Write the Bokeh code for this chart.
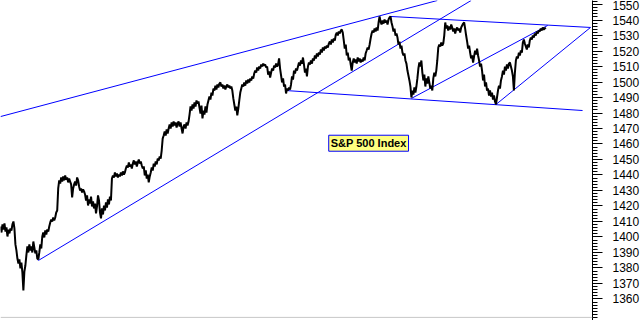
from bokeh.plotting import figure
from bokeh.models import Range1d, LinearAxis, FixedTicker, Label, Span
from bokeh.embed import file_html
from bokeh.resources import INLINE

# S&P 500 index, intraday closes (bar index = position in list)
seg_march = [1406.8, 1402.9, 1408.1, 1404.8, 1408.7, 1403.5, 1406.2, 1400.3, 1404.8, 1402.3,
             1405.5, 1404.2, 1408.1, 1410.0, 1405.5, 1395.2, 1391.3, 1386.1, 1382.9, 1385.5,
             1379.7, 1383.5, 1377.1, 1365.5, 1377.7, 1381.6, 1388.1, 1393.9, 1390.0, 1395.2,
             1391.3, 1393.9, 1390.0, 1397.1, 1393.2, 1389.4, 1391.3, 1386.1, 1385.5, 1390.0,
             1395.2, 1392.6, 1400.3, 1402.9, 1399.7, 1404.2, 1401.6, 1404.8, 1403.5, 1406.8,
             1409.4, 1411.3, 1410.0, 1412.6, 1410.7, 1412.6, 1415.8, 1417.1, 1431.3, 1436.5,
             1434.5, 1438.4, 1435.8, 1439.1, 1436.5, 1439.7, 1437.1, 1438.4, 1435.2, 1437.7,
             1435.8, 1433.9, 1425.5, 1431.3, 1433.9, 1435.8, 1433.2, 1438.4, 1436.5, 1432.6,
             1430.0, 1431.3, 1428.7, 1430.7, 1429.4, 1427.4, 1423.5, 1426.8, 1420.3, 1424.2,
             1421.6, 1426.1, 1419.7, 1422.9, 1418.4, 1421.6, 1415.2, 1419.7, 1426.8, 1423.5]
seg_april = [1415.8, 1412.0, 1418.4, 1414.5, 1420.3, 1417.1, 1422.3, 1419.0, 1424.2, 1421.0,
             1426.1, 1423.5, 1437.7, 1439.7, 1438.4, 1441.6, 1439.1, 1441.0, 1438.4, 1440.3,
             1439.1, 1441.6, 1439.7, 1442.3, 1440.3, 1441.6, 1444.2, 1446.1, 1444.8, 1448.1,
             1445.5, 1446.8, 1444.2, 1447.4, 1449.4, 1446.8, 1448.7, 1445.5, 1448.1, 1450.0,
             1447.4, 1448.7, 1446.1, 1444.2, 1445.5, 1439.7, 1442.9, 1437.7, 1440.3, 1435.2,
             1439.1, 1441.6, 1444.8, 1442.9, 1447.4, 1445.5, 1448.7, 1446.8, 1450.6, 1449.4,
             1451.9, 1450.6, 1455.8, 1463.5, 1465.5, 1468.1, 1465.5, 1469.4, 1466.8, 1470.0,
             1472.6, 1470.0, 1473.9, 1471.3, 1474.5, 1471.9, 1473.9, 1470.6, 1473.2, 1474.5,
             1471.3, 1473.9, 1470.0, 1466.8, 1471.3, 1472.6, 1470.0, 1473.9, 1471.9, 1474.5,
             1479.0, 1484.2, 1481.6, 1485.5, 1482.9, 1486.8, 1484.2, 1488.1, 1486.1, 1487.4]
seg_may = [1483.5, 1479.7, 1484.8, 1476.5, 1481.6, 1479.0, 1484.2, 1480.3, 1485.5, 1488.1,
           1490.6, 1488.7, 1493.2, 1491.3, 1495.8, 1494.5, 1497.7, 1495.2, 1498.4, 1496.5,
           1499.0, 1499.7, 1497.1, 1498.4, 1495.8, 1497.7, 1495.2, 1497.1, 1498.4, 1496.5,
           1497.7, 1495.8, 1497.1, 1494.5, 1489.4, 1485.5, 1481.6, 1484.2, 1478.4, 1482.9,
           1488.1, 1493.2, 1495.8, 1498.4, 1497.1, 1499.7, 1497.7, 1501.0, 1499.0, 1501.6,
           1499.7, 1502.3, 1501.0, 1503.6, 1502.3, 1505.5, 1507.4, 1506.1, 1509.4, 1507.4,
           1510.0, 1508.7, 1511.3, 1510.0, 1511.9, 1510.6, 1511.3, 1509.4, 1510.0, 1504.8,
           1506.8, 1502.9, 1506.1, 1508.7, 1507.4, 1510.6, 1509.4, 1511.9, 1510.0, 1511.3,
           1515.2, 1508.7, 1504.2, 1499.7, 1502.3, 1497.1, 1498.4, 1492.6, 1495.8, 1494.5,
           1496.5, 1495.2, 1498.4, 1503.6, 1501.6, 1507.4, 1505.5, 1508.7, 1507.4, 1510.0,
           1512.6, 1510.6, 1513.9, 1511.9, 1515.8, 1511.3, 1506.1, 1508.7, 1503.6, 1510.0,
           1512.6]
seg_june = [1511.3, 1513.9, 1511.9, 1515.2, 1513.9, 1517.1, 1515.2, 1518.4, 1516.5, 1519.0,
            1517.7, 1521.0, 1519.0, 1522.3, 1520.3, 1522.9, 1521.6, 1523.5, 1522.3, 1524.8,
            1526.1, 1524.2, 1527.4, 1525.5, 1528.1, 1526.8, 1530.6, 1531.9, 1530.0, 1532.6,
            1531.3, 1533.2, 1533.9, 1531.9, 1526.8, 1521.6, 1524.2, 1517.1, 1519.0, 1513.9,
            1515.8, 1511.3, 1507.4, 1512.6, 1515.2, 1512.6, 1514.5, 1511.9, 1515.8, 1513.2,
            1515.2, 1512.6, 1514.5, 1513.2, 1515.8, 1513.9, 1518.4, 1520.3, 1522.3, 1521.0,
            1524.2, 1528.1, 1531.3, 1533.2, 1531.9, 1534.5, 1532.6, 1535.2, 1533.2, 1538.4,
            1542.3, 1539.0, 1537.1, 1539.7, 1537.7, 1540.3, 1538.4, 1539.7, 1537.1, 1540.3,
            1541.6, 1542.3, 1538.4, 1535.8, 1532.6, 1534.5, 1530.0, 1531.3, 1528.7, 1524.2,
            1526.1, 1521.6, 1523.5, 1519.0, 1517.1, 1518.4, 1513.9, 1511.9, 1507.4, 1504.2]
seg_july = [1501.0, 1497.1, 1490.0, 1494.5, 1491.9, 1496.5, 1493.2, 1497.1, 1502.3, 1508.7,
            1512.6, 1510.0, 1513.9, 1506.1, 1501.0, 1504.8, 1497.1, 1502.3, 1499.0, 1503.6,
            1499.7, 1495.8, 1497.7, 1494.5, 1502.3, 1506.1, 1503.6, 1507.4, 1513.9, 1522.3,
            1524.2, 1522.9, 1525.5, 1523.5, 1524.8, 1530.0, 1538.4, 1534.5, 1536.5, 1533.2,
            1535.8, 1533.9, 1537.1, 1535.2, 1532.6, 1534.5, 1531.3, 1533.9, 1535.2, 1533.2,
            1534.5, 1531.9, 1535.2, 1536.5, 1537.7, 1538.4, 1534.5, 1530.0, 1526.1, 1521.6,
            1523.5, 1519.0, 1515.2, 1517.1, 1512.6, 1516.5, 1520.3, 1517.7, 1521.6, 1517.1,
            1513.9, 1510.0, 1511.9, 1507.4, 1501.0, 1504.8, 1497.1, 1499.7, 1494.5, 1495.8,
            1491.3, 1494.5, 1490.6, 1493.2, 1488.7, 1491.3, 1487.4, 1485.5, 1490.0, 1494.5,
            1497.7, 1495.8, 1501.0, 1503.6, 1507.4, 1504.8, 1510.0, 1507.4, 1511.3, 1508.7,
            1511.9, 1512.6, 1510.0, 1507.4, 1503.6, 1494.5, 1506.1, 1513.9, 1516.5, 1515.2,
            1519.0, 1517.1, 1520.3, 1519.0, 1525.5, 1527.4, 1524.8, 1522.9, 1521.0, 1524.2,
            1522.3, 1526.8, 1528.7, 1527.4, 1530.0, 1528.7, 1531.3, 1530.0, 1532.6, 1531.3,
            1533.2, 1532.6, 1534.5, 1533.2, 1535.2, 1533.9, 1534.5, 1535.2]

prices = seg_march + seg_april + seg_may + seg_june + seg_july
bars = list(range(len(prices)))

# Trend lines: (start bar, start price, end bar, end price)
trend_upper_long = (0, 1477.7, 439, 1552.6)
trend_rising_main = (38, 1384.8, 473, 1552.6)
trend_top_flat = (392, 1542.3, 593, 1535.2)
trend_bottom_flat = (287, 1494.5, 585, 1481.6)
trend_mid_channel = (413, 1489.4, 550, 1536.5)
trend_low_channel = (498, 1485.5, 593, 1535.2)
trends = [trend_upper_long, trend_rising_main, trend_top_flat,
          trend_bottom_flat, trend_mid_channel, trend_low_channel]

# Axis ticks
major_ticks = list(range(1360, 1551, 10))
minor_ticks = list(range(1346, 1553, 2))

title_text = "S&P 500 Index"

p = figure(width=642, height=320, output_backend="svg", toolbar_location=None,
           x_range=Range1d(0, 595), y_range=Range1d(1346.1, 1552.6),
           min_border=0, min_border_left=0, min_border_right=0,
           min_border_top=0, min_border_bottom=0)
p.xaxis.visible = False
p.yaxis.visible = False
p.xgrid.visible = False
p.ygrid.visible = False
p.outline_line_color = None
p.background_fill_color = "white"
p.border_fill_color = "white"

ax = LinearAxis(ticker=FixedTicker(ticks=major_ticks, minor_ticks=minor_ticks))
ax.axis_line_color = "black"
ax.major_tick_line_color = "black"
ax.minor_tick_line_color = "black"
ax.major_tick_out = 10
ax.major_tick_in = 0
ax.minor_tick_out = 5
ax.minor_tick_in = 0
ax.major_label_standoff = 10
ax.major_label_text_font = "Liberation Sans"
ax.major_label_text_font_size = "12px"
ax.major_label_text_color = "black"
p.add_layout(ax, "right")

p.add_layout(Span(location=1348.1, dimension="width", line_color="#C8C8C8", line_width=1))

for (x0, y0, x1, y1) in trends:
    p.line([x0, x1], [y0, y1], line_color="#0000FF", line_width=1)

p.line(bars, prices, line_color="black", line_width=2)

lab = Label(x=370, y=1460.5, text=title_text, text_align="center", text_baseline="middle",
            text_font="Liberation Sans", text_font_style="bold", text_font_size="11px",
            text_color="black", background_fill_color="#FFFF80",
            border_line_color="#0000FF", border_line_width=1, padding=2)
p.add_layout(lab)

open("out.html", "w").write(file_html(p, INLINE))
